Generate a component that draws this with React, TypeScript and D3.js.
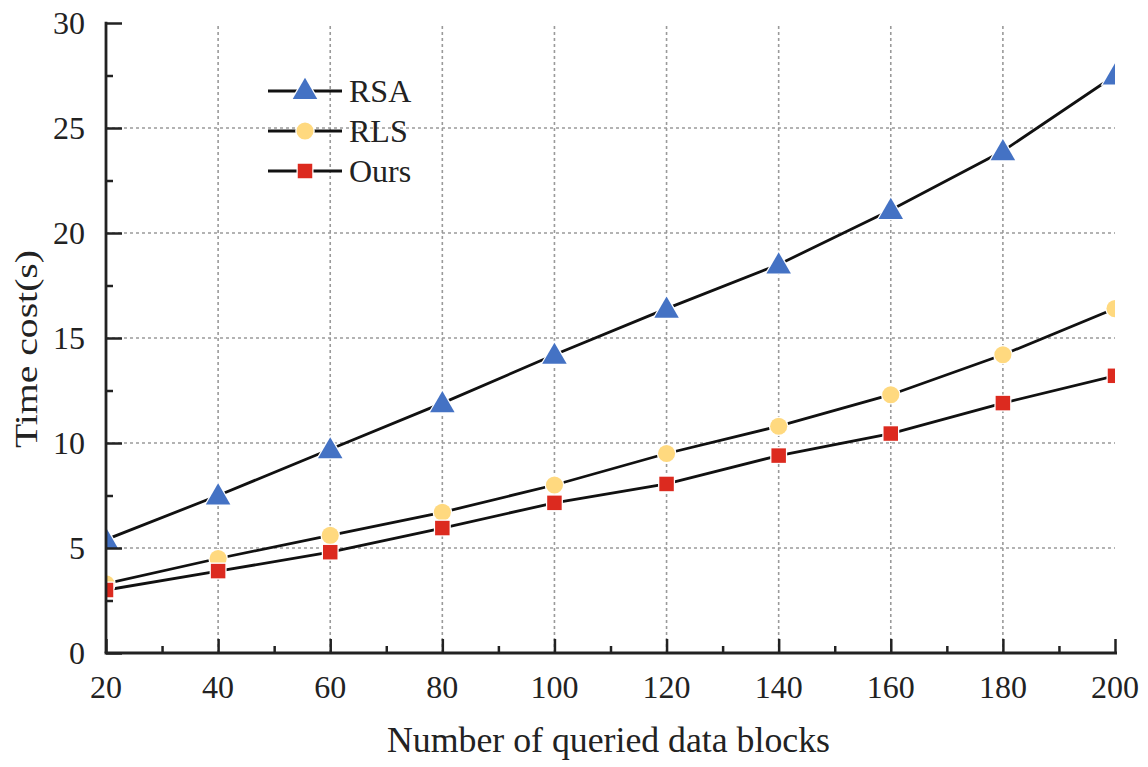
import React, { useEffect, useRef } from 'react';
import * as d3 from 'd3';

const blocks = [20, 40, 60, 80, 100, 120, 140, 160, 180, 200];
const rsa = [5.4, 7.5, 9.7, 11.9, 14.2, 16.4, 18.5, 21.1, 23.9, 27.5];
const rls = [3.3, 4.5, 5.6, 6.7, 8.0, 9.5, 10.8, 12.3, 14.2, 16.4];
const ours = [3.0, 3.9, 4.8, 5.95, 7.15, 8.05, 9.4, 10.45, 11.9, 13.2];
const yTicks = [0, 5, 10, 15, 20, 25, 30];

const series = [
  { name: 'RSA', values: rsa, color: '#4472c4', shape: 'triangle' },
  { name: 'RLS', values: rls, color: '#ffd97f', shape: 'circle' },
  { name: 'Ours', values: ours, color: '#dc2a1f', shape: 'square' },
];

const W = 1148;
const H = 767;
const FONT = '"Liberation Serif", "Times New Roman", serif';

const App = () => {
  const ref = useRef<SVGSVGElement>(null);

  useEffect(() => {
    const margin = { top: 23, right: 33, bottom: 114, left: 106 };
    const svg = d3.select(ref.current);
    svg.selectAll('*').remove();

    const x = d3.scaleLinear().domain([20, 200]).range([margin.left, W - margin.right]);
    const y = d3.scaleLinear().domain([0, 30]).range([H - margin.bottom, margin.top]);

    // grid
    const grid = svg.append('g').attr('stroke', '#9a9a9a').attr('stroke-width', 1.6).attr('stroke-dasharray', '3,3');
    grid.selectAll('line.h').data(yTicks.filter((t) => t > 0 && t < 30)).join('line')
      .attr('x1', x(20)).attr('x2', x(200)).attr('y1', (d) => y(d)).attr('y2', (d) => y(d));
    grid.selectAll('line.v').data(blocks.filter((b) => b > 20 && b < 200)).join('line')
      .attr('y1', y(0)).attr('y2', y(30)).attr('x1', (d) => x(d)).attr('x2', (d) => x(d));

    // clip for markers at edges
    svg.append('clipPath').attr('id', 'plot-clip').append('rect')
      .attr('x', x(20)).attr('y', y(30) - 10).attr('width', x(200) - x(20)).attr('height', y(0) - y(30) + 10);

    const line = d3.line<number>().x((_, i) => x(blocks[i])).y((d) => y(d));
    const sym = (shape: string, size: number) =>
      d3.symbol().type(shape === 'triangle' ? d3.symbolTriangle : shape === 'circle' ? d3.symbolCircle : d3.symbolSquare).size(size)();
    const symSize = (shape: string) => (shape === 'triangle' ? 260 : shape === 'circle' ? 230 : 210);

    const plot = svg.append('g').attr('clip-path', 'url(#plot-clip)');
    series.forEach((s) => {
      plot.append('path').datum(s.values).attr('fill', 'none').attr('stroke', '#111')
        .attr('stroke-width', 2.8).attr('d', line);
    });
    series.forEach((s) => {
      plot.selectAll(null).data(s.values).join('path')
        .attr('transform', (d, i) => `translate(${x(blocks[i])},${y(d) + (s.shape === 'triangle' ? 2 : 0)})`)
        .attr('d', sym(s.shape, symSize(s.shape))).attr('fill', s.color)
        .attr('stroke', '#fff').attr('stroke-width', 2.5).attr('paint-order', 'stroke');
    });

    // axes
    const axisColor = '#222';
    const yAxis = svg.append('g').attr('transform', `translate(${margin.left},0)`)
      .call(d3.axisRight(y).tickValues(yTicks).tickSize(16).tickFormat(() => ''));
    yAxis.select('.domain').remove();
    svg.append('g').attr('transform', `translate(${margin.left},0)`)
      .call(d3.axisRight(y).tickValues(d3.range(2.5, 30, 5)).tickSize(7).tickFormat(() => ''))
      .select('.domain').remove();
    svg.selectAll('.tick line').attr('stroke', axisColor).attr('stroke-width', 2.5);
    svg.append('line').attr('x1', margin.left).attr('x2', margin.left).attr('y1', y(30) - 1.2).attr('y2', y(0))
      .attr('stroke', axisColor).attr('stroke-width', 2.8);

    const xg = svg.append('g').attr('transform', `translate(0,${y(0)})`);
    xg.call(d3.axisTop(x).tickValues(blocks).tickSize(14).tickFormat(() => '')).select('.domain').remove();
    const xg2 = svg.append('g').attr('transform', `translate(0,${y(0)})`);
    xg2.call(d3.axisTop(x).tickValues(d3.range(30, 200, 20)).tickSize(7).tickFormat(() => '')).select('.domain').remove();
    xg.selectAll('.tick line').attr('stroke', axisColor).attr('stroke-width', 2.5);
    xg2.selectAll('.tick line').attr('stroke', axisColor).attr('stroke-width', 2.5);
    svg.append('line').attr('x1', margin.left - 1.4).attr('x2', x(200) + 2).attr('y1', y(0)).attr('y2', y(0))
      .attr('stroke', axisColor).attr('stroke-width', 2.8);

    // tick labels
    svg.append('g').selectAll('text').data(yTicks).join('text')
      .attr('x', margin.left - 21).attr('y', (d) => y(d)).attr('dy', '0.35em')
      .attr('text-anchor', 'end').attr('font-family', FONT).attr('font-size', 32).attr('fill', '#222')
      .text((d) => d);
    svg.append('g').selectAll('text').data(blocks).join('text')
      .attr('x', (d) => x(d)).attr('y', y(0) + 45)
      .attr('text-anchor', 'middle').attr('font-family', FONT).attr('font-size', 32).attr('fill', '#222')
      .text((d) => d);

    // titles
    svg.append('text').attr('x', (x(20) + x(200)) / 2 - 2).attr('y', 752).attr('text-anchor', 'middle')
      .attr('font-family', FONT).attr('font-size', 35).attr('fill', '#222')
      .attr('textLength', 443).attr('lengthAdjust', 'spacingAndGlyphs')
      .text('Number of queried data blocks');
    svg.append('text').attr('transform', `translate(37,${(y(0) + y(30)) / 2 + 11}) rotate(-90)`).attr('text-anchor', 'middle')
      .attr('font-family', FONT).attr('font-size', 32).attr('fill', '#222')
      .attr('textLength', 198).attr('lengthAdjust', 'spacingAndGlyphs')
      .text('Time cost(s)');

    // legend
    const lg = svg.append('g');
    series.forEach((s, i) => {
      const ly = 91 + i * 40;
      lg.append('line').attr('x1', 268).attr('x2', 342).attr('y1', ly).attr('y2', ly)
        .attr('stroke', '#111').attr('stroke-width', 2.8);
      lg.append('path').attr('transform', `translate(305,${ly + (s.shape === 'triangle' ? 1 : 0)})`)
        .attr('d', sym(s.shape, symSize(s.shape))).attr('fill', s.color)
        .attr('stroke', '#fff').attr('stroke-width', 2.5).attr('paint-order', 'stroke');
      lg.append('text').attr('x', 349).attr('y', ly).attr('dy', '0.35em')
        .attr('font-family', FONT).attr('font-size', 32).attr('fill', '#222').text(s.name);
    });
  }, []);

  return <svg ref={ref} width={W} height={H} style={{ position: 'absolute', left: 0, top: 0, background: '#fff' }} />;
};

export default App;
